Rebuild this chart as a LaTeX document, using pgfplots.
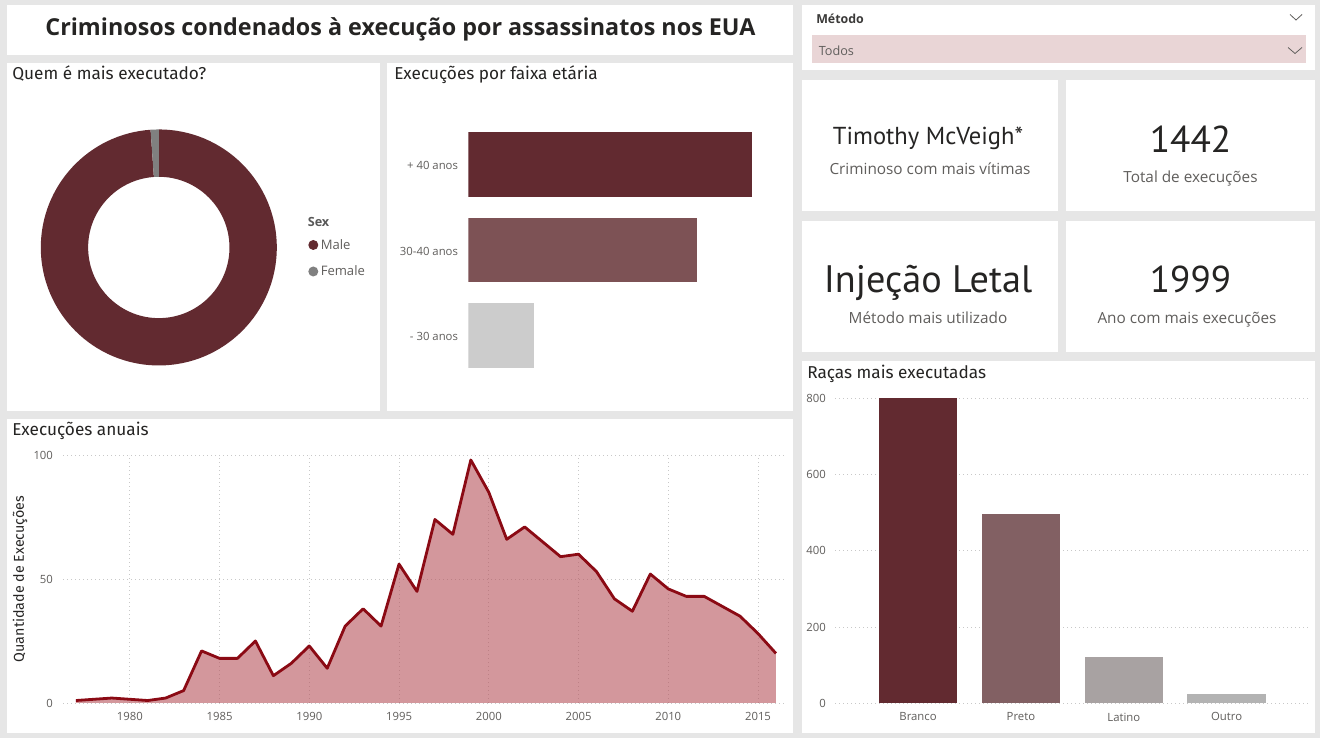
\documentclass[border=0pt]{standalone}
\usepackage{pgfplots}
\pgfplotsset{compat=1.18}
\usepackage{pgfplotstable}
\usepackage{fontspec}
\setmainfont{Open Sans}
\newfontfamily\din{Fira Sans}
\newfontfamily\cardfont{PT Sans}

\definecolor{bgc}{HTML}{E6E6E6}
\definecolor{darktxt}{HTML}{252423}
\definecolor{graytxt}{HTML}{605E5C}
\definecolor{maroon}{HTML}{622A30}
\definecolor{agemid}{HTML}{7D5255}
\definecolor{agelight}{HTML}{CCCCCC}
\definecolor{preto}{HTML}{826063}
\definecolor{latino}{HTML}{A8A2A2}
\definecolor{outro}{HTML}{B3B3B3}
\definecolor{femc}{HTML}{808080}
\definecolor{linec}{HTML}{8B0A14}
\definecolor{fillc}{HTML}{B7525A}
\definecolor{gridc}{HTML}{C8C8C8}
\definecolor{slicerc}{HTML}{E9D5D6}

% executions per year
\pgfplotstableread{
year n
1977 1
1979 2
1981 1
1982 2
1983 5
1984 21
1985 18
1986 18
1987 25
1988 11
1989 16
1990 23
1991 14
1992 31
1993 38
1994 31
1995 56
1996 45
1997 74
1998 68
1999 98
2000 85
2001 66
2002 71
2003 65
2004 59
2005 60
2006 53
2007 42
2008 37
2009 52
2010 46
2011 43
2012 43
2013 39
2014 35
2015 28
2016 20
}\yeardata

% executions by sex
\pgfplotstableread{
sex n
Male 1426
Female 16
}\sexdata

\pgfplotsset{
  panel/.style={
    scale only axis,
    axis line style={draw=none},
    major tick length=0pt,
    tick label style={font=\fontsize{8.5}{10}\selectfont, text=graytxt},
    /pgf/number format/assume math mode=true,
    /pgf/number format/1000 sep={},
    grid style={gridc, dash pattern=on 0.8pt off 2.2pt, line width=0.6pt},
  },
}

\begin{document}
\begin{tikzpicture}
\useasboundingbox (0,0) rectangle (990pt,553.5pt);
\fill[bgc] (0,0) rectangle (990pt,553.5pt);

\pgfplotstablegetelem{0}{n}\of\sexdata \edef\nmale{\pgfplotsretval}
\pgfplotstablegetelem{1}{n}\of\sexdata \edef\nfemale{\pgfplotsretval}
\pgfmathsetmacro\amale{360*(\nmale/(\nmale+\nfemale))}

\begin{scope}[x=0.75pt,y=-0.75pt,shift={(0pt,553.5pt)}]
  % panels
  \fill[white] (7,5) rectangle (793,55);
  \fill[white] (802,5) rectangle (1315,70);
  \fill[white] (7,63) rectangle (380,411);
  \fill[white] (387,63) rectangle (793,411);
  \fill[white] (7,419) rectangle (793,733);
  \fill[white] (802,80) rectangle (1058,211);
  \fill[white] (1066,80) rectangle (1315,211);
  \fill[white] (802,221) rectangle (1058,352);
  \fill[white] (1066,221) rectangle (1315,352);
  \fill[white] (802,361) rectangle (1315,733);

  % headline
  \node[anchor=base, font=\bfseries\fontsize{17.5}{21}\selectfont, text=darktxt]
    at (400.5,36) {Criminosos condenados à execução por assassinatos nos EUA};

  % slicer
  \node[anchor=base west, inner sep=0pt, font=\bfseries\fontsize{9.3}{11}\selectfont, text=darktxt!90]
    at (816,24) {Método};
  \draw[graytxt, line width=0.6pt] (1290,14.5) -- (1296,20) -- (1302,14.5);
  \fill[slicerc] (812,35) rectangle (1306,63.5);
  \node[anchor=base west, inner sep=0pt, font=\fontsize{9.5}{11}\selectfont, text=graytxt]
    at (818.5,55.5) {Todos};
  \draw[graytxt, line width=0.6pt] (1288,47.5) -- (1295,53.5) -- (1302,47.5);

  % panel titles
  \begin{scope}[every node/.style={anchor=base west, inner sep=0pt,
      font=\din\fontsize{12.9}{15}\selectfont, text=darktxt}]
    \node at (12,80) {Quem é mais executado?};
    \node at (394,80) {Execuções por faixa etária};
    \node at (12,436) {Execuções anuais};
    \node at (807,379) {Raças mais executadas};
  \end{scope}

  % cards
  \begin{scope}[every node/.style={anchor=base, inner sep=0pt}]
    \node[font=\cardfont\fontsize{18.4}{22}\selectfont, text=darktxt] at (928,144.3) {Timothy McVeigh*};
    \node[font=\fontsize{11.5}{14}\selectfont, text=graytxt] at (930,175) {Criminoso com mais vítimas};
    \node[font=\cardfont\fontsize{28}{34}\selectfont, text=darktxt] at (1190.5,152.3) {1442};
    \node[font=\fontsize{11.5}{14}\selectfont, text=graytxt] at (1190.5,182.7) {Total de execuções};
    \node[font=\cardfont\fontsize{28.7}{34}\selectfont, text=darktxt] at (928,292.3) {Injeção Letal};
    \node[font=\fontsize{11.5}{14}\selectfont, text=graytxt] at (928,323.3) {Método mais utilizado};
    \node[font=\cardfont\fontsize{28}{34}\selectfont, text=darktxt] at (1190.5,292.7) {1999};
    \node[font=\fontsize{11.5}{14}\selectfont, text=graytxt] at (1187,323.3) {Ano com mais execuções};
  \end{scope}

  % legend of the donut
  \node[anchor=base west, inner sep=0pt, font=\bfseries\fontsize{9.5}{11}\selectfont, text=black!65]
    at (307.5,227) {Sex};
  \fill[maroon] (313.3,245) circle (5);
  \node[anchor=base west, inner sep=0pt, font=\fontsize{9.8}{11}\selectfont, text=graytxt]
    at (320.5,250) {Male};
  \fill[femc] (313.3,271.5) circle (5);
  \node[anchor=base west, inner sep=0pt, font=\fontsize{9.8}{11}\selectfont, text=graytxt]
    at (320.5,276) {Female};
\end{scope}

% donut: share of executions by sex
\begin{axis}[
  at={(119.1pt,367.9pt)}, anchor=center,
  scale only axis, width=177pt, height=177pt,
  xmin=-1, xmax=1, ymin=-1, ymax=1,
  hide axis, clip=false,
]
  \fill[maroon] (axis cs:0,0) ++(90:88.5pt)
    arc[start angle=90, end angle={90-\amale}, radius=88.5pt]
    -- ++({270-\amale}:35.5pt)
    arc[start angle={90-\amale}, end angle=90, radius=53pt] -- cycle;
  \fill[femc] (axis cs:0,0) ++({90-\amale}:88.5pt)
    arc[start angle={90-\amale}, end angle=-270, radius=88.5pt]
    -- ++(270:35.5pt)
    arc[start angle=-270, end angle={90-\amale}, radius=53pt] -- cycle;
\end{axis}

% executions by age group
\begin{axis}[panel,
  at={(351.2pt,269.8pt)}, anchor=south west,
  width=225pt, height=192.4pt,
  xmin=0, xmax=748, ymin=-0.5, ymax=2.5,
  xtick=\empty, ytick={0,1,2},
  yticklabels={- 30 anos, 30-40 anos, + 40 anos},
  yticklabel style={xshift=-4.2pt, yshift=-1pt},
]
  \addplot[xbar, bar width=0.753, fill=maroon, draw=none] coordinates {(707,2)};
  \addplot[xbar, bar width=0.753, fill=agemid, draw=none] coordinates {(571,1)};
  \addplot[xbar, bar width=0.753, fill=agelight, draw=none] coordinates {(164,0)};
\end{axis}

% executions per year
\begin{axis}[panel,
  at={(47.25pt,26.25pt)}, anchor=south west,
  width=542.25pt, height=186pt,
  xmin=1976.28, xmax=2016.56, ymin=0, ymax=100,
  xtick={1980,1985,...,2015}, ytick={0,50,100},
  grid=major,
  xticklabel style={yshift=-3.5pt},
  yticklabel style={xshift=-4pt},
  ylabel={Quantidade de Execuções},
  every axis y label/.style={at={(axis description cs:-0.0595,0.5)}, anchor=center, rotate=90,
    font=\din\fontsize{10.7}{12}\selectfont, text=darktxt},
]
  \addplot[draw=none, fill=fillc, fill opacity=0.6] table[x=year, y=n] {\yeardata} \closedcycle;
  \addplot[draw=linec, line width=2.1pt, line join=round, mark=none] table[x=year, y=n] {\yeardata};
\end{axis}

% executions by race
\begin{axis}[panel,
  at={(626.25pt,26pt)}, anchor=south west,
  width=356.25pt, height=229pt,
  xmin=-0.807, xmax=3.81, ymin=0, ymax=800,
  xtick={0,1,2,3}, xticklabels={Branco, Preto, Latino, Outro},
  ytick={0,200,...,800},
  ymajorgrids,
  xticklabel style={yshift=-3.5pt},
  yticklabel style={xshift=-3.4pt},
]
  \addplot[ybar, bar width=0.762, fill=maroon, draw=none] coordinates {(0,800)};
  \addplot[ybar, bar width=0.762, fill=preto, draw=none] coordinates {(1,497)};
  \addplot[ybar, bar width=0.762, fill=latino, draw=none] coordinates {(2,121)};
  \addplot[ybar, bar width=0.762, fill=outro, draw=none] coordinates {(3,24)};
\end{axis}
\end{tikzpicture}
\end{document}
